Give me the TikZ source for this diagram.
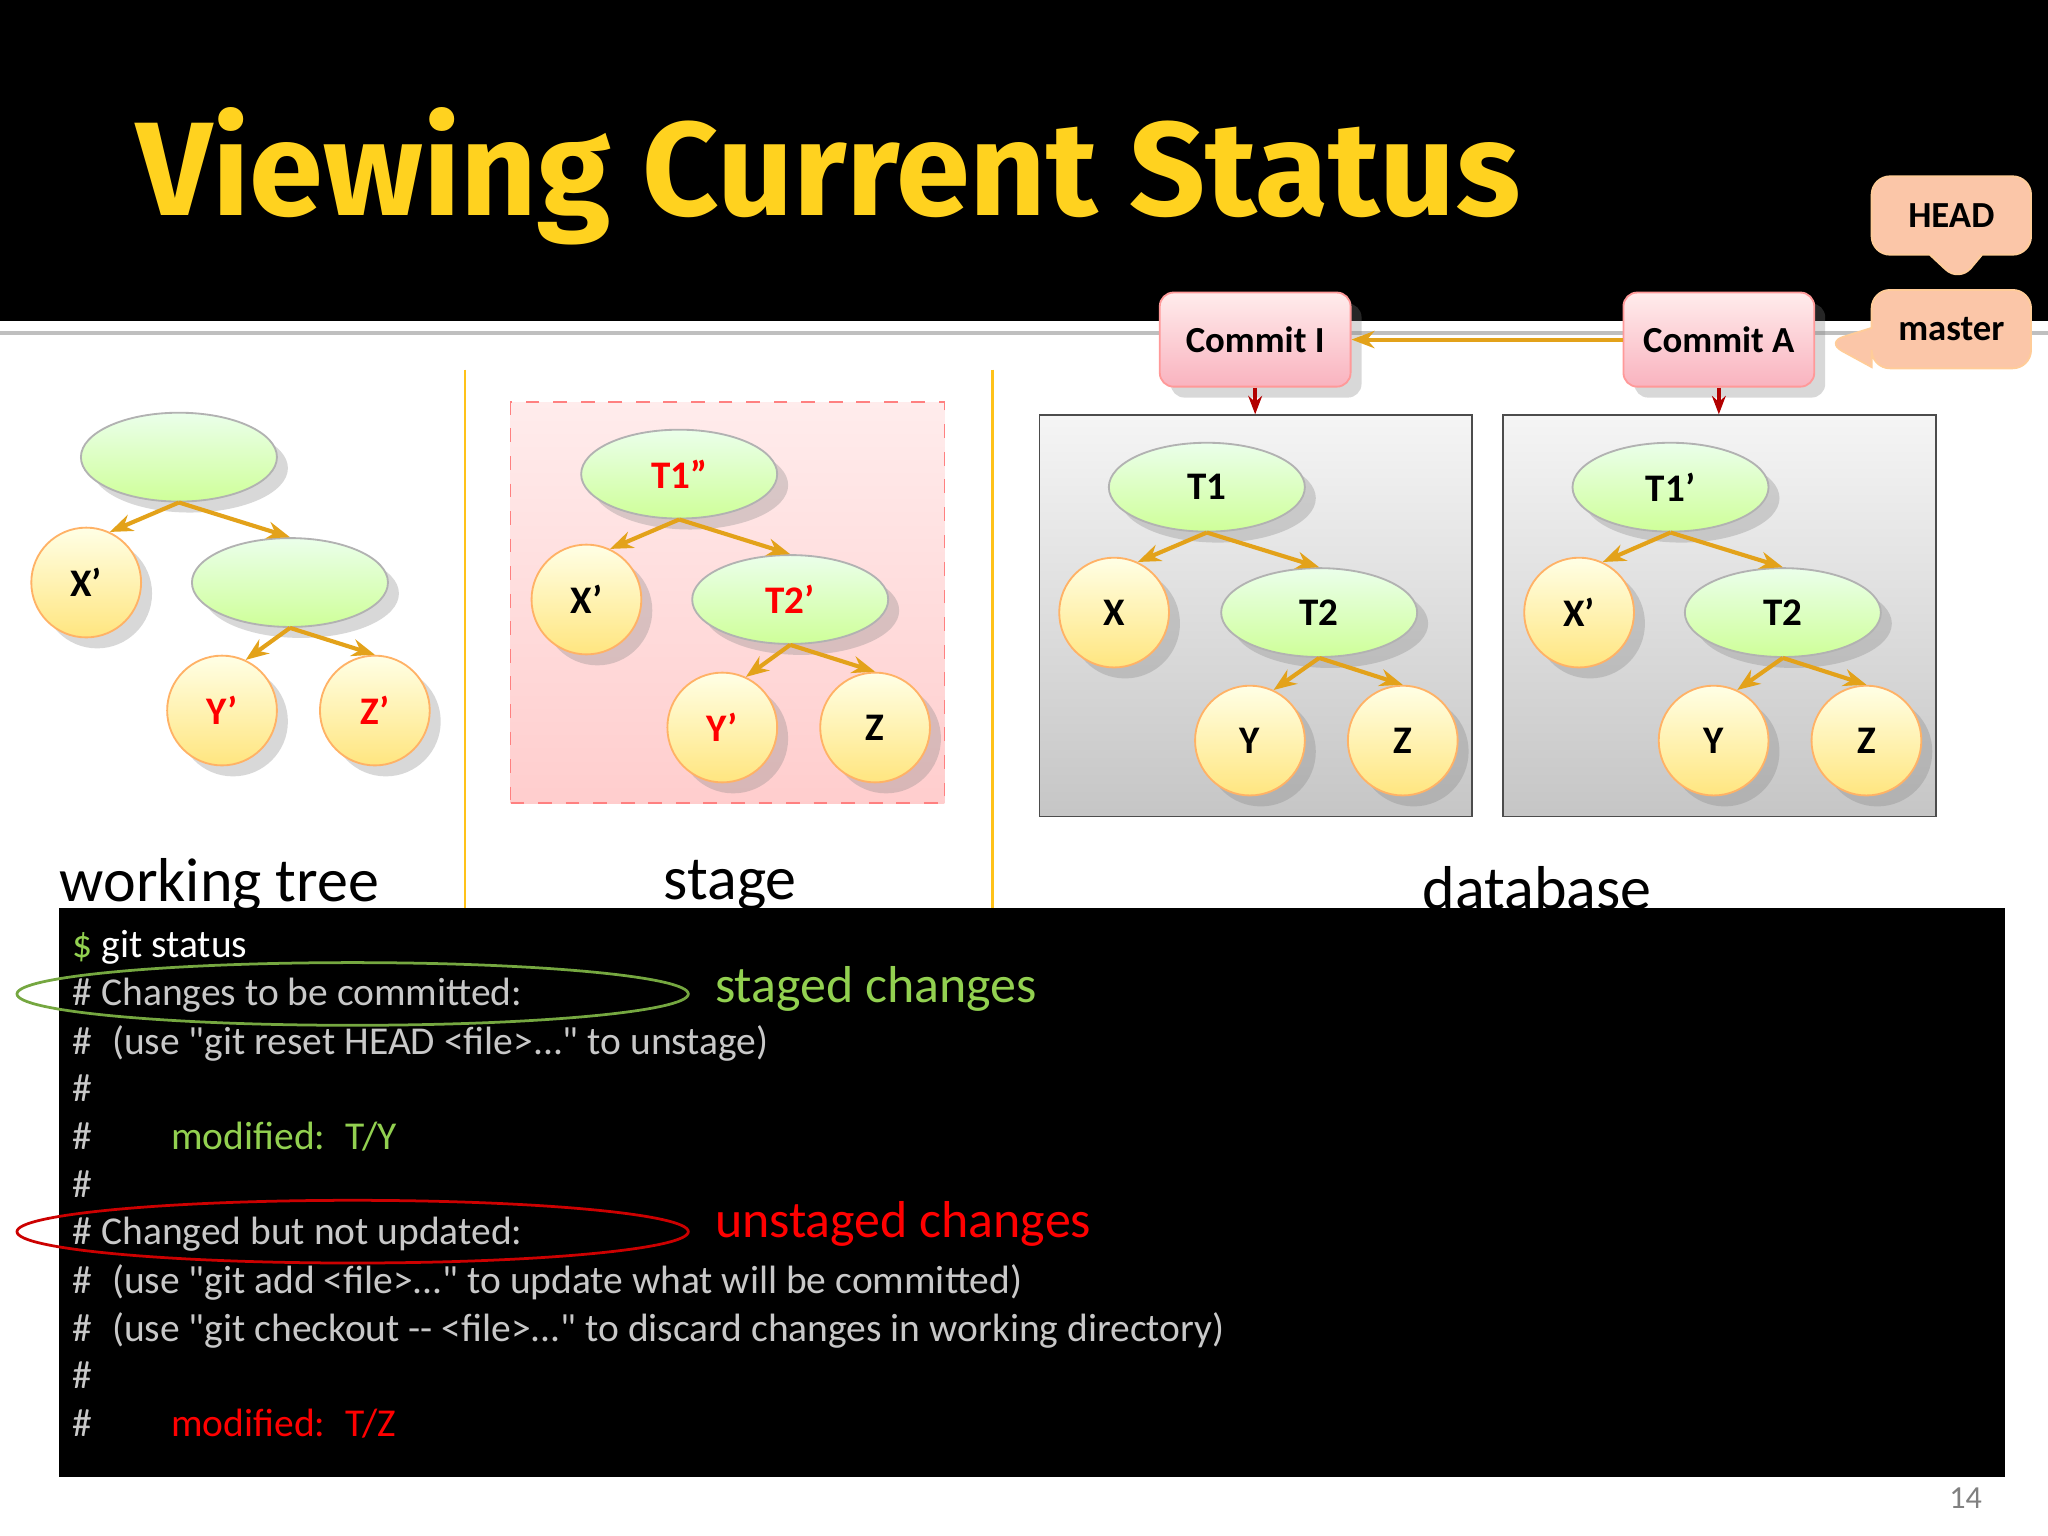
\documentclass[tikz,border=0pt]{standalone}
\usepackage{fontspec}
\setmainfont{Carlito}
\newfontfamily\titlefont{Fira Sans}
\newfontfamily\termfont{Carlito}
\usetikzlibrary{shapes.geometric,shapes.callouts,shadows,arrows.meta}
\definecolor{ttl}{HTML}{FFD21F}
\definecolor{edgec}{HTML}{E3A21A}
\definecolor{grn}{HTML}{92D050}
\definecolor{lgray}{HTML}{C8C8C8}
\definecolor{peach}{HTML}{FBC6A8}
\definecolor{pinkc}{HTML}{F9B3BF}
\tikzset{
 tree/.style={ellipse,minimum width=1.5cm,minimum height=0.68cm,draw=gray!60,top color=green!8,bottom color=green!30!lime!40,drop shadow={opacity=0.3},font=\bfseries\fontsize{8.5}{10}\selectfont},
 leaf/.style={circle,minimum size=0.84cm,inner sep=0pt,draw=orange!60,top color=yellow!10,bottom color=yellow!60!orange!50,drop shadow={opacity=0.3},font=\bfseries\fontsize{8.5}{10}\selectfont},
 edge/.style={draw=edgec,line width=0.9pt,-{Stealth[length=5pt]}},
 commitbox/.style={rounded corners=3pt,draw=pink!80!red,top color=pink!30,bottom color=pinkc,minimum width=1.46cm,minimum height=0.72cm,font=\bfseries\fontsize{8}{10}\selectfont,drop shadow={opacity=0.3}},
 dbbox/.style={draw=black!70,top color=gray!8,bottom color=gray!45,minimum width=3.31cm,minimum height=3.07cm},
 term/.style={anchor=base west,font=\termfont\fontsize{8.6}{10}\selectfont,inner sep=0pt},
 lbl/.style={font=\fontsize{13.5}{16}\selectfont}
}
\begin{document}
\begin{tikzpicture}[x=0.01cm,y=-0.01cm]
\useasboundingbox (0,0) rectangle (1568,1176);
\fill[white] (0,0) rectangle (1568,1176);
\fill[black] (0,0) rectangle (1568,246);
\draw[gray!50,line width=1pt] (0,255) -- (1568,255);
\node[text=ttl,font=\titlefont\bfseries\fontsize{29}{32}\selectfont,anchor=west] (title) at (92,135) {Viewing Current Status};
% dividers
\draw[ttl!80!orange,line width=0.6pt] (356,283) -- (356,695);
\draw[ttl!80!orange,line width=0.6pt] (760,283) -- (760,695);
% callouts
\node[rectangle callout,rounded corners=4pt,fill=peach,draw=orange!40,minimum width=1.22cm,minimum height=0.6cm,callout absolute pointer={(1500,216)},callout pointer width=0.4cm,font=\bfseries\fontsize{8}{10}\selectfont] (head) at (1494,165) {HEAD};
\node[rectangle callout,rounded corners=4pt,fill=peach,draw=orange!40,minimum width=1.22cm,minimum height=0.6cm,callout absolute pointer={(1398,262)},callout pointer width=0.3cm,font=\bfseries\fontsize{8}{10}\selectfont] (master) at (1494,252) {master};
% commits
\node[commitbox] (ci) at (961,260) {Commit I};
\node[commitbox] (ca) at (1316,260) {Commit A};
\draw[edge] (ca.west) -- (ci.east);
% boxes
\node[dbbox] (db1) at (961.5,471.5) {};
\node[dbbox] (db2) at (1316.5,471.5) {};
\node[draw=red!50,dashed,top color=pink!30,bottom color=pink!90!red!60,minimum width=3.32cm,minimum height=3.07cm] (stg) at (557,461.5) {};
\draw[red!70!black,line width=0.8pt,-{Stealth[length=4pt]}] (ci.south) -- (db1.north-|ci.south);
\draw[red!70!black,line width=0.8pt,-{Stealth[length=4pt]}] (ca.south) -- (db2.north-|ca.south);
% working tree
\node[tree] (w1) at (137,350) {};
\node[leaf] (wx) at (66,446) {X'};
\node[tree] (w2) at (222,446) {};
\node[leaf,text=red] (wy) at (170,544) {Y'};
\node[leaf,text=red] (wz) at (287,544) {Z'};
% stage
\node[tree,text=red] (s1) at (520,363) {T1''};
\node[leaf] (sx) at (449,459) {X'};
\node[tree,text=red] (s2) at (605,459) {T2'};
\node[leaf,text=red] (sy) at (553,557) {Y'};
\node[leaf] (sz) at (670,557) {Z};
% db1
\node[tree] (a1) at (924,373) {T1};
\node[leaf] (ax) at (853,469) {X};
\node[tree] (a2) at (1010,469) {T2};
\node[leaf] (ay) at (957,567) {Y};
\node[leaf] (az) at (1074,567) {Z};
% db2
\node[tree] (b1) at (1279,373) {T1'};
\node[leaf] (bx) at (1209,469) {X'};
\node[tree] (b2) at (1365,469) {T2};
\node[leaf] (by) at (1312,567) {Y};
\node[leaf] (bz) at (1429,567) {Z};
\foreach \p/\l/\r in {w1/wx/w2,w2/wy/wz,s1/sx/s2,s2/sy/sz,a1/ax/a2,a2/ay/az,b1/bx/b2,b2/by/bz}{
 \draw[edge] (\p.south) -- (\l.65);
 \draw[edge] (\p.south) -- (\r.north);
}
% labels
\node[lbl] (lw) at (168,678) {working tree};
\node[lbl] (ls) at (559,678) {stage};
\node[lbl] (ld) at (1177,680) {database};
% terminal
\fill[black] (45,695) rectangle (1535,1131);
\node[term] (t1) at (55,733) {\textcolor{grn}{\$} \textcolor{white}{git status}};
\node[term,text=lgray] (t2) at (55,770) {\# Changes to be committed:};
\node[term,text=lgray] (t3) at (55,807) {\#\enspace(use "git reset HEAD <file>..." to unstage)};
\node[term,text=lgray] (t4) at (55,843) {\#};
\node[term,text=lgray] (t5) at (55,880) {\#\qquad\textcolor{grn}{modified:\enspace T/Y}};
\node[term,text=lgray] (t6) at (55,917) {\#};
\node[term,text=lgray] (t7) at (55,953) {\# Changed but not updated:};
\node[term,text=lgray] (t8) at (55,990) {\#\enspace(use "git add <file>..." to update what will be committed)};
\node[term,text=lgray] (t9) at (55,1027) {\#\enspace(use "git checkout -- <file>..." to discard changes in working directory)};
\node[term,text=lgray] (t10) at (55,1063) {\#};
\node[term,text=lgray] (t11) at (55,1100) {\#\qquad\textcolor{red}{modified:\enspace T/Z}};
\draw[grn!80!black,line width=0.6pt] (270,761) ellipse (257 and 24);
\draw[red!80!black,line width=0.6pt] (270,943) ellipse (257 and 24);
\node[anchor=west,text=grn,font=\fontsize{11.3}{14}\selectfont] (sc) at (535,757) {staged changes};
\node[anchor=west,text=red,font=\fontsize{11.3}{14}\selectfont] (uc) at (535,937) {unstaged changes};
\node[text=gray,font=\fontsize{7}{8}\selectfont] (pg) at (1505,1147) {14};
\end{tikzpicture}
\end{document}
